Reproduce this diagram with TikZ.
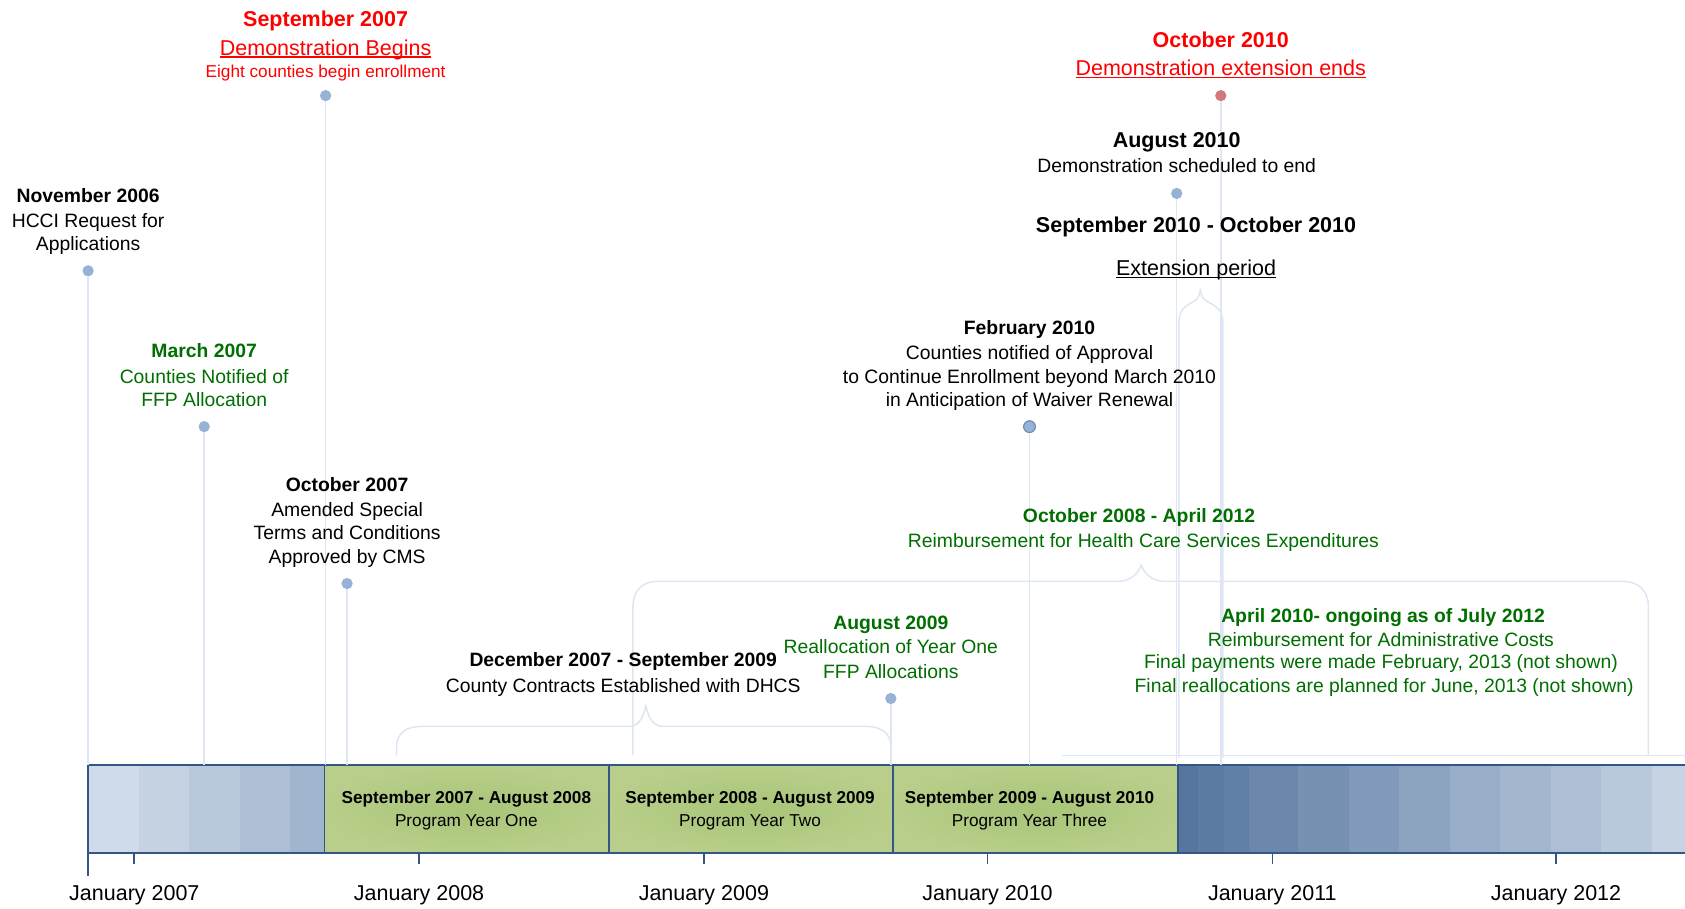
\documentclass[tikz,border=0pt]{standalone}
\usepackage{fontspec}
\setmainfont{Liberation Sans}
\definecolor{ttred}{RGB}{255,0,0}
\definecolor{ttgreen}{RGB}{0,110,0}
\definecolor{dotblue}{RGB}{150,178,212}
\definecolor{dotrose}{RGB}{208,122,126}
\definecolor{dotedge}{RGB}{105,135,178}
\definecolor{linec}{RGB}{221,230,242}
\definecolor{bardark}{RGB}{52,86,132}
\definecolor{boxgreen}{RGB}{184,206,138}
\definecolor{boxgreenin}{RGB}{168,197,120}
\newcommand{\ulx}[1]{\setbox0=\hbox{#1}\rlap{\rule[-0.12em]{\wd0}{0.06em}}\box0}
\tikzset{
  t18/.style={font=\fontsize{18}{22}\selectfont, inner sep=0pt, text height=13pt, text depth=0pt},
  t18b/.style={font=\fontsize{18}{22}\selectfont\bfseries, inner sep=0pt, text height=13pt, text depth=0pt},
  t20/.style={font=\fontsize{20}{24}\selectfont, inner sep=0pt, text height=14.4pt, text depth=0pt},
  t20b/.style={font=\fontsize{20}{24}\selectfont\bfseries, inner sep=0pt, text height=14.4pt, text depth=0pt},
  t16/.style={font=\fontsize{16}{19}\selectfont, inner sep=0pt, text height=11.5pt, text depth=0pt},
  t16b/.style={font=\fontsize{16}{19}\selectfont\bfseries, inner sep=0pt, text height=11.5pt, text depth=0pt},
  evdot/.style={circle, fill=dotblue, inner sep=0pt, minimum size=10.5pt},
  conn/.style={draw=linec, line width=1.4pt},
  bracepath/.style={draw=linec, line width=1.4pt},
  barline/.style={draw=bardark, line width=1.6pt},
}
\begin{document}
\begin{tikzpicture}[x=1pt,y=-1pt]
\useasboundingbox (0,0) rectangle (1568,845);

% ---------- timeline bar ----------
\foreach \a/\b/\c in {82/129/{207,219,233},129/176/{197,210,226},176/223/{185,201,219},223/270/{174,191,213},270/302/{161,181,206}}{
  \definecolor{bandc}{RGB}{\c}
  \fill[bandc] (\a,712) rectangle (\b,794);
}
\foreach \a/\b/\c in {1096/1115/{86,118,160},1115/1139/{93,124,164},1139/1162/{97,128,167},1162/1208/{107,136,172},1208/1255/{119,145,179},1255/1302/{129,154,186},1302/1349/{140,163,192},1349/1396/{152,173,199},1396/1443/{163,182,206},1443/1490/{174,191,213},1490/1537/{185,201,220},1537/1568/{198,211,227}}{
  \definecolor{bandc}{RGB}{\c}
  \fill[bandc] (\a,712) rectangle (\b,794);
}
\shade[inner color=boxgreenin, outer color=boxgreen] (302,712) rectangle (567,794);
\shade[inner color=boxgreenin, outer color=boxgreen] (567,712) rectangle (831,794);
\shade[inner color=boxgreenin, outer color=boxgreen] (831,712) rectangle (1096,794);
\draw[barline] (1568,712) -- (82,712) -- (82,794) -- (1568,794);
\foreach \x in {302,567,831,1096} \draw[barline] (\x,712) -- (\x,794);
\foreach \x in {125,390,655,919,1184,1448} \draw[barline] (\x,794) -- (\x,804);
\draw[barline] (82,794) -- (82,815);

% bar labels
\node[t16b] (py1a) at (434,742) {September 2007 - August 2008};
\node[t16]  (py1b) at (434,763) {Program Year One};
\node[t16b] (py2a) at (698,742) {September 2008 - August 2009};
\node[t16]  (py2b) at (698,763) {Program Year Two};
\node[t16b] (py3a) at (958,742) {September 2009 - August 2010};
\node[t16]  (py3b) at (958,763) {Program Year Three};

% axis labels
\node[t20] (j07) at (125,831) {January 2007};
\node[t20] (j08) at (390,831) {January 2008};
\node[t20] (j09) at (655,831) {January 2009};
\node[t20] (j10) at (919,831) {January 2010};
\node[t20] (j11) at (1184,831) {January 2011};
\node[t20] (j12) at (1448,831) {January 2012};

% ---------- braces ----------
\draw[bracepath] (1097,705) -- (1097,300) .. controls (1097,288) and (1104,284) .. (1110,281)
  .. controls (1114,279) and (1116,276) .. (1117,270)
  .. controls (1118,276) and (1120,279) .. (1124,281)
  .. controls (1130,284) and (1138,288) .. (1138,300) -- (1138,705);
\draw[bracepath] (589,703) -- (589,565) .. controls (589,550) and (597,541) .. (612,541) -- (1040,541)
  .. controls (1050,541) and (1058,536) .. (1062,526)
  .. controls (1066,536) and (1074,541) .. (1084,541) -- (1510,541)
  .. controls (1525,541) and (1534,550) .. (1534,565) -- (1534,703);
\draw[bracepath] (369,703) -- (369,695) .. controls (369,683) and (377,676) .. (392,676) -- (585,676)
  .. controls (593,676) and (598,670) .. (601,657)
  .. controls (604,670) and (609,676) .. (617,676) -- (806,676)
  .. controls (821,676) and (829,683) .. (829,695) -- (829,703);
\draw[bracepath] (988,703) -- (1568,703);

% ---------- event dots and connectors ----------
\node[evdot] (d1) at (82,252) {};
\node[evdot] (d2) at (190,397) {};
\node[evdot] (d3) at (303,89) {};
\node[evdot] (d4) at (323,543) {};
\node[evdot] (d5) at (829,650) {};
\node[evdot, draw=dotedge, line width=1pt, minimum size=11pt] (d6) at (958,397) {};
\node[evdot] (d7) at (1095,180) {};
\node[evdot, fill=dotrose] (d8) at (1136,89) {};
\coordinate (b1) at (82,712);
\coordinate (b2) at (190,712);
\coordinate (b3) at (303,712);
\coordinate (b4) at (323,712);
\coordinate (b5) at (829,712);
\coordinate (b6) at (958,712);
\coordinate (b7) at (1095,712);
\coordinate (b8) at (1136,712);
\foreach \i in {1,...,8} \draw[conn] (d\i) -- (b\i);

% ---------- event texts ----------
\node[t18b] (e1a) at (82,182) {November 2006};
\node[t18]  (e1b) at (82,205) {HCCI Request for};
\node[t18]  (e1c) at (82,227) {Applications};

\node[t18b, text=ttgreen] (e2a) at (190,326) {March 2007};
\node[t18, text=ttgreen]  (e2b) at (190,350) {Counties Notified of};
\node[t18, text=ttgreen]  (e2c) at (190,372) {FFP Allocation};

\node[t20b, text=ttred] (e3a) at (303,17) {September 2007};
\node[t20, text=ttred]  (e3b) at (303,44) {\ulx{Demonstration Begins}};
\node[t16, text=ttred]  (e3c) at (303,66) {Eight counties begin enrollment};

\node[t18b] (e4a) at (323,451) {October 2007};
\node[t18]  (e4b) at (323,474) {Amended Special};
\node[t18]  (e4c) at (323,496) {Terms and Conditions};
\node[t18]  (e4d) at (323,518) {Approved by CMS};

\node[t18b] (e9a) at (580,614) {December 2007 - September 2009};
\node[t18]  (e9b) at (580,638) {County Contracts Established with DHCS};

\node[t18b, text=ttgreen] (e5a) at (829,579) {August 2009};
\node[t18, text=ttgreen]  (e5b) at (829,602) {Reallocation of Year One};
\node[t18, text=ttgreen]  (e5c) at (829,625) {FFP Allocations};

\node[t18b] (e6a) at (958,305) {February 2010};
\node[t18]  (e6b) at (958,328) {Counties notified of Approval};
\node[t18]  (e6c) at (958,350) {to Continue Enrollment beyond March 2010};
\node[t18]  (e6d) at (958,372) {in Anticipation of Waiver Renewal};

\node[t18b, text=ttgreen] (e10a) at (1060,480) {October 2008 - April 2012};
\node[t18, text=ttgreen]  (e10b) at (1064,503) {Reimbursement for Health Care Services Expenditures};

\node[t18b, text=ttgreen] (e11a) at (1287,573) {April 2010- ongoing as of July 2012};
\node[t18, text=ttgreen]  (e11b) at (1285,595) {Reimbursement for Administrative Costs};
\node[t18, text=ttgreen]  (e11c) at (1285,616) {Final payments were made February, 2013 (not shown)};
\node[t18, text=ttgreen]  (e11d) at (1288,638) {Final reallocations are planned for June, 2013 (not shown)};

\node[t20b] (e7a) at (1095,130) {August 2010};
\node[t18]  (e7b) at (1095,154) {Demonstration scheduled to end};

\node[t20b] (e12a) at (1113,209) {September 2010 - October 2010};
\node[t20]  (e12b) at (1113,249) {\ulx{Extension period}};

\node[t20b, text=ttred] (e8a) at (1136,37) {October 2010};
\node[t20, text=ttred]  (e8b) at (1136,63) {\ulx{Demonstration extension ends}};
\end{tikzpicture}
\end{document}
